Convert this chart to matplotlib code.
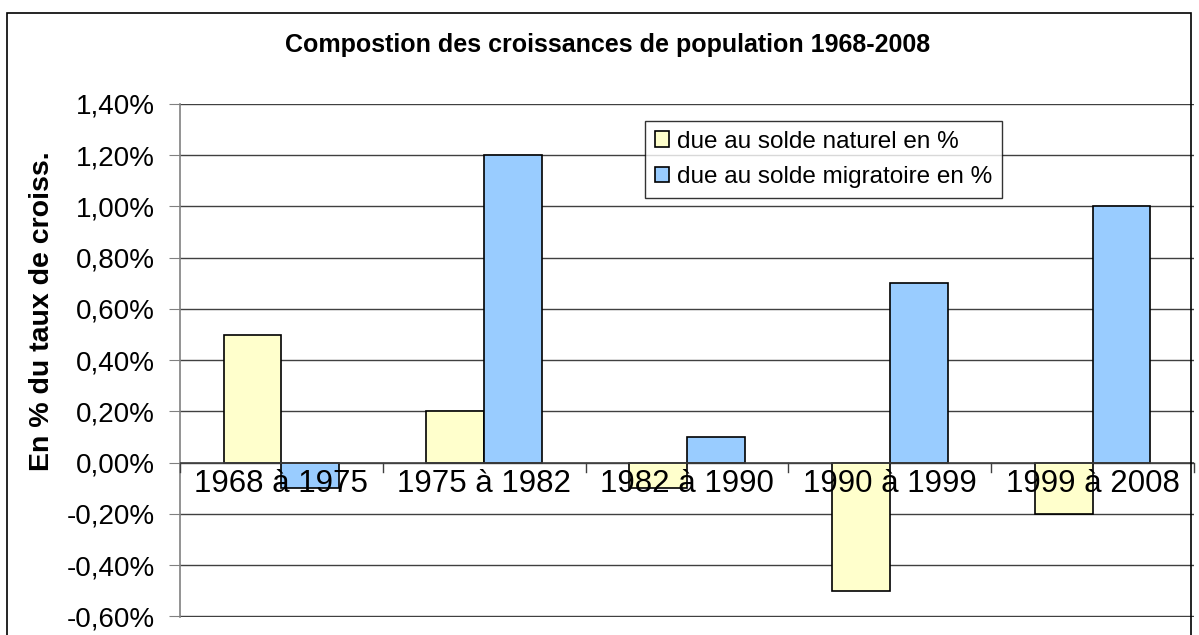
import numpy as np
import matplotlib.pyplot as plt
from matplotlib.ticker import FuncFormatter
from matplotlib.patches import Rectangle

plt.rcParams['font.family'] = ['Liberation Sans', 'DejaVu Sans']

periodes = ["1968 à 1975", "1975 à 1982", "1982 à 1990", "1990 à 1999", "1999 à 2008"]
solde_naturel = [0.5, 0.2, -0.1, -0.5, -0.2]
solde_migratoire = [-0.1, 1.2, 0.1, 0.7, 1.0]

fig = plt.figure(figsize=(11.99, 6.35), dpi=100)
ax = fig.add_axes([180 / 1199, 18 / 635, (1194 - 180) / 1199, (617 - 104) / 635])

# cadre autour du graphique
fig.patches.append(Rectangle((7 / 1199, -0.01), (1191 - 7) / 1199, (628) / 635,
                             transform=fig.transFigure, fill=False, edgecolor="black", lw=1.2))

x = np.arange(len(periodes))
w = 0.285
ax.bar(x - w / 2, solde_naturel, w, color="#FFFFCC", edgecolor="black", lw=1.2,
       label="due au solde naturel en %", zorder=3)
ax.bar(x + w / 2, solde_migratoire, w, color="#99CCFF", edgecolor="black", lw=1.2,
       label="due au solde migratoire en %", zorder=3)

ax.set_xlim(-0.5, len(periodes) - 0.5)
ax.set_ylim(-0.602, 1.4)
ax.set_yticks(np.arange(-0.6, 1.41, 0.2))
ax.yaxis.set_major_formatter(FuncFormatter(lambda v, p: f"{v:.2f}%".replace(".", ",").replace("-0,00", "0,00")))
ax.grid(axis="y", color="#404040", lw=1, zorder=0)
ax.tick_params(axis="y", labelsize=20, length=8, color="#808080", pad=10)
for s in ["top", "right", "bottom"]:
    ax.spines[s].set_visible(False)
ax.spines["left"].set_color("#808080")
ax.spines["left"].set_linewidth(1.2)

ax.set_xticks([])
ax.axhline(0, color="#404040", lw=1.2, zorder=4)
for b in np.arange(-0.5, len(periodes), 1.0):
    ax.plot([b, b], [0, -0.035], color="#404040", lw=1, zorder=4, clip_on=False)
for i, lab in enumerate(periodes):
    ax.text(i, -0.025, lab, ha="center", va="top", fontsize=22.5, zorder=5)

fig.text(42 / 1199, 1 - 311 / 635, "En % du taux de croiss.", rotation=90,
         ha="center", va="center", fontsize=20.5, fontweight="bold")
fig.text(608 / 1199, 1 - 45 / 635, "Compostion des croissances de population 1968-2008",
         ha="center", va="center", fontsize=18, fontweight="bold")

leg = ax.legend(loc="upper left", bbox_to_anchor=((645 - 180) / 1014, (617 - 121) / 513),
                fontsize=17.5, frameon=True, fancybox=False, edgecolor="black",
                handlelength=0.6, handleheight=0.6, handletextpad=0.3, borderpad=0.4,
                labelspacing=0.55, borderaxespad=0)
leg.get_frame().set_linewidth(1)

fig.savefig("out.png", dpi=100)
